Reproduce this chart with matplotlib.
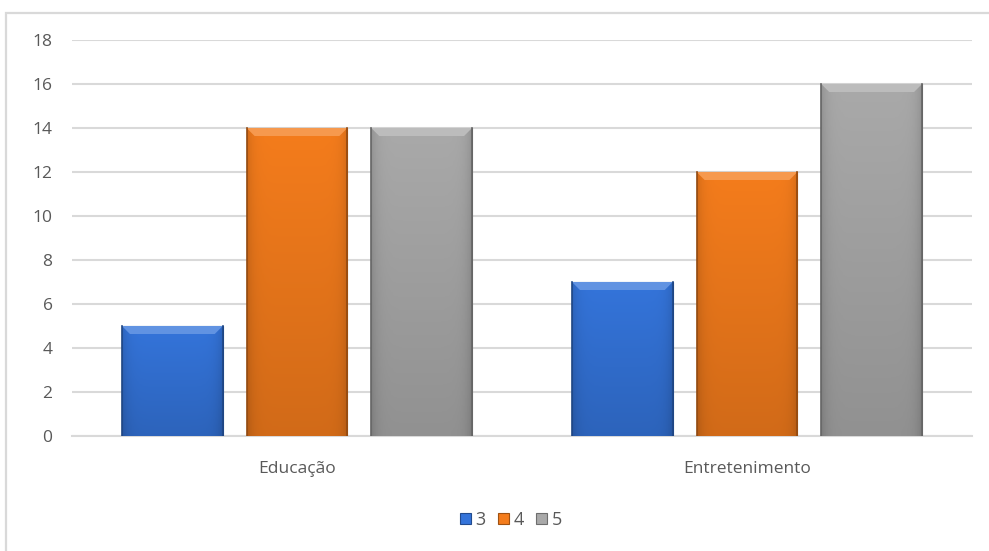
import numpy as np
import matplotlib
matplotlib.use("Agg")
import matplotlib.pyplot as plt
from matplotlib.patches import Rectangle, Polygon
from matplotlib.colors import to_rgb

categories = ["Educação", "Entretenimento"]
series = ["3", "4", "5"]
values = {
    "3": [5, 7],
    "4": [14, 12],
    "5": [14, 16],
}
colors = {"3": "#3474DA", "4": "#F47C1C", "5": "#A9A9A9"}

plt.rcParams['font.family'] = ['Open Sans', 'DejaVu Sans']

fig = plt.figure(figsize=(9.89, 5.51), dpi=100)
ax = fig.add_axes([72/989, (551-436)/551, 900/989, 396/551])

# outer chart border
fig.patches.append(Rectangle((6/989, -0.1), 1.2, 1.1 - 13/551,
                             transform=fig.transFigure, fill=False,
                             edgecolor="#D9D9D9", linewidth=1.6))

x = np.arange(len(categories))
width = 0.224
step = 0.277
ymax = 18

def shade(c, f):
    r = np.array(to_rgb(c))
    if f >= 0:
        return tuple(r + (1 - r) * f)
    return tuple(r * (1 + f))

# pixel -> data scales
px_x = 1 / 450.0
px_y = ymax / 396.0

for i, s in enumerate(series):
    xs = x + (i - 1) * step
    bars = ax.bar(xs, values[s], width, color=colors[s], zorder=3, label=s,
                  edgecolor=shade(colors[s], -0.35), linewidth=0.8)
    for b in bars:
        x0, w, h = b.get_x(), b.get_width(), b.get_height()
        # gradient body: lighter at top, darker at bottom
        nx = 60
        hx = np.linspace(-1, 1, nx)
        vy = np.linspace(0, 1, 40)[:, None]
        base = np.array(to_rgb(colors[s]))
        f = 1 - 0.14 * vy - 0.12 * np.abs(hx)[None, :] ** 8
        img = np.clip(base[None, None, :] * f[:, :, None], 0, 1)
        im = ax.imshow(img, extent=[x0, x0 + w, 0, h], aspect="auto",
                       zorder=4, origin="upper")
        im.set_clip_path(b)
        # top bevel
        bv = 8
        top = Polygon([[x0, h], [x0 + w, h],
                       [x0 + w - bv * px_x, h - bv * px_y],
                       [x0 + bv * px_x, h - bv * px_y]],
                      closed=True, facecolor=shade(colors[s], 0.22),
                      edgecolor="none", zorder=5)
        ax.add_patch(top)
        # side edges
        for sx in (x0, x0 + w):
            ax.plot([sx, sx], [0, h], color=shade(colors[s], -0.4),
                    linewidth=1.2, zorder=6)

ax.set_xlim(-0.5, 1.5)
ax.set_ylim(0, ymax)
ax.set_yticks(np.arange(0, 19, 2))
ax.set_xticks(x)
ax.set_xticklabels(categories)
ax.yaxis.grid(True, color="#D9D9D9", linewidth=1.5, zorder=0)
ax.set_axisbelow(True)
for sp in ax.spines.values():
    sp.set_visible(False)
ax.spines["bottom"].set_visible(True)
ax.spines["bottom"].set_color("#D9D9D9")
ax.spines["bottom"].set_linewidth(1.5)
ax.tick_params(axis="both", length=0, labelsize=12.5, colors="#595959", pad=14)
ax.tick_params(axis="x", pad=18)

handles, labels = ax.get_legend_handles_labels()
leg = fig.legend(handles, labels, loc="center", bbox_to_anchor=(511/989, 1 - 520/551),
                 ncol=3, frameon=False, fontsize=13, handlelength=0.6,
                 handleheight=0.6, handletextpad=0.25, columnspacing=0.7,
                 labelcolor="#595959")

fig.savefig("out.png", dpi=100)
